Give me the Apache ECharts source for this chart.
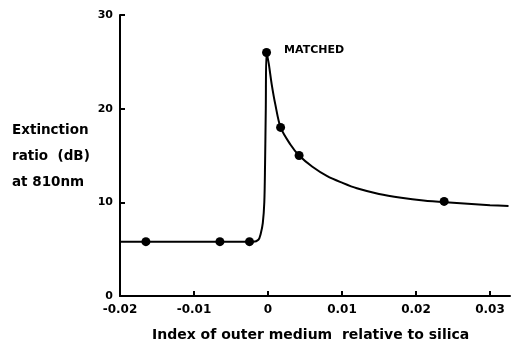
<!DOCTYPE html>
<html><head><meta charset="utf-8">
<script src="https://cdn.jsdelivr.net/npm/echarts@6/dist/echarts.min.js"></script>
<style>html,body{margin:0;padding:0;background:#fff}#c{width:521px;height:350px}</style>
</head><body><div id="c"></div>
<script>
// Smooth curve: [index, extinction dB]
const curveX = [-0.02, -0.015, -0.01, -0.005, -0.002, -0.0013, -0.001, -0.0007, -0.0005, -0.0004, -0.0003, -0.0002, 0.0001, 0.0005, 0.001, 0.0017, 0.003, 0.0042, 0.006, 0.008, 0.01, 0.012, 0.015, 0.018, 0.021, 0.024, 0.027, 0.03, 0.0325];
const curveY = [5.8, 5.8, 5.8, 5.8, 5.8, 6.0, 6.6, 7.8, 10, 14, 20, 26, 24.8, 22.6, 20.4, 18, 16.2, 15, 13.8, 12.8, 12.1, 11.5, 10.9, 10.5, 10.2, 10.0, 9.85, 9.7, 9.6];
// Measured points
const pointX = [-0.0165, -0.0065, -0.0025, -0.0002, 0.0017, 0.0042, 0.0238];
const pointY = [5.8, 5.8, 5.8, 26, 18, 15, 10.1];
const xTicks = [-0.02, -0.01, 0, 0.01, 0.02, 0.03];
const yTicks = [0, 10, 20, 30];
const peakLabel = 'MATCHED';
const yTitleLines = ['Extinction', 'ratio  (dB)', 'at 810nm'];
const xTitle = 'Index of outer medium  relative to silica';

const FONT = 'DejaVu Sans';
const chart = echarts.init(document.getElementById('c'));
chart.setOption({
  animation: false,
  backgroundColor: '#fff',
  grid: {left: 120, right: 11, top: 15, bottom: 54},
  xAxis: {
    type: 'value', min: -0.02, max: 0.0327,
    splitLine: {show: false},
    axisLine: {onZero: false, lineStyle: {color: '#000', width: 2}},
    axisTick: {inside: true, length: 5, lineStyle: {color: '#000', width: 2}, customValues: xTicks},
    axisLabel: {customValues: xTicks, color: '#000', fontFamily: FONT, fontWeight: 'bold', fontSize: 12, margin: 8,
      formatter: v => String(Math.round(v * 100) / 100)}
  },
  yAxis: {
    type: 'value', min: 0, max: 30, interval: 10,
    splitLine: {show: false},
    axisLine: {show: true, onZero: false, lineStyle: {color: '#000', width: 2}},
    axisTick: {show: true, inside: true, length: 5, lineStyle: {color: '#000', width: 2}},
    axisLabel: {customValues: yTicks, color: '#000', fontFamily: FONT, fontWeight: 'bold', fontSize: 11, margin: 7}
  },
  series: [
    {type: 'line', data: curveX.map((x, i) => [x, curveY[i]]), smooth: 0.3, showSymbol: false,
      lineStyle: {color: '#000', width: 2}},
    {type: 'scatter', symbolSize: 9, itemStyle: {color: '#000', opacity: 1},
      data: pointX.map((x, i) => {
        const d = {value: [x, pointY[i]]};
        if (pointY[i] === Math.max(...pointY)) {
          d.label = {show: true, position: 'right', distance: 13, offset: [0, -2], formatter: peakLabel,
            color: '#000', fontFamily: FONT, fontWeight: 'bold', fontSize: 11};
        }
        return d;
      })}
  ],
  graphic: [
    ...yTitleLines.map((t, i) => ({type: 'text', left: 12, top: 123 + i * 26,
      style: {text: t, fill: '#000', font: 'bold 13.5px "' + FONT + '"'}})),
    {type: 'text', left: 152, top: 328, style: {text: xTitle, fill: '#000', font: 'bold 14px "' + FONT + '"'}}
  ]
});
</script></body></html>
